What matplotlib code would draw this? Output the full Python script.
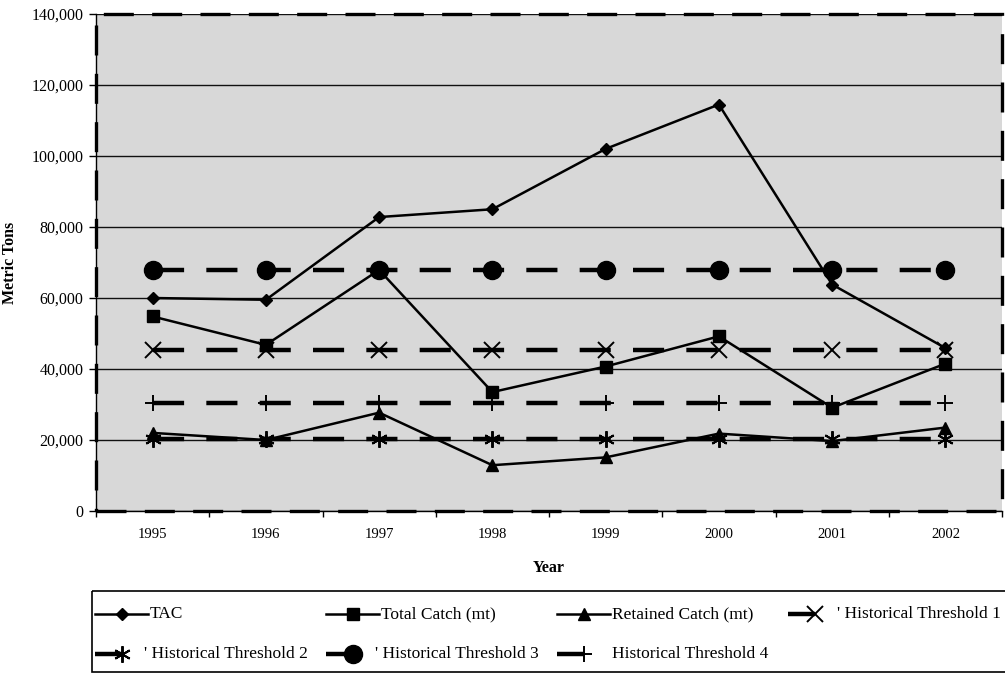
import matplotlib
matplotlib.use('Agg')
import matplotlib.pyplot as plt
from matplotlib.patches import Rectangle
from matplotlib.ticker import StrMethodFormatter, FixedLocator
import numpy as np

plt.rcParams['font.family'] = ['Liberation Serif', 'DejaVu Serif']

years = ['1995', '1996', '1997', '1998', '1999', '2000', '2001', '2002']
tac = [60000, 59500, 82800, 85000, 102000, 114500, 63800, 45900]
total_catch = [54800, 46800, 67900, 33500, 40700, 49200, 29100, 41500]
retained_catch = [22000, 20000, 27700, 12900, 15100, 21800, 19700, 23500]
hist1 = [45400, 45400, 45400, 45400, 45400, 45400, 45400, 45400]
hist2 = [20300, 20300, 20300, 20300, 20300, 20300, 20300, 20300]
hist3 = [68000, 68000, 68000, 68000, 68000, 68000, 68000, 68000]
hist4 = [30300, 30300, 30300, 30300, 30300, 30300, 30300, 30300]
yticks = [0, 20000, 40000, 60000, 80000, 100000, 120000, 140000]

asterisk = (6, 2, 0)
dash = (0, (7, 5))

fig = plt.figure(figsize=(10.05, 6.75), dpi=100)
ax = fig.add_axes([96/1005, 1-511/675, 906/1005, 497/675])
ax.set_facecolor('#d8d8d8')
x = np.arange(len(years))

ax.plot(x, tac, color='black', lw=1.8, marker='D', ms=6, zorder=3)
ax.plot(x, total_catch, color='black', lw=1.8, marker='s', ms=8, zorder=3)
ax.plot(x, retained_catch, color='black', lw=1.8, marker='^', ms=9, zorder=3)
ax.plot(x, hist1, color='black', lw=3.2, ls=dash, marker='x', ms=12, mew=1.4, zorder=3)
ax.plot(x, hist2, color='black', lw=3.2, ls=dash, marker=asterisk, ms=12, mew=1.4, zorder=3)
ax.plot(x, hist3, color='black', lw=3.2, ls=dash, marker='o', ms=13, zorder=3)
ax.plot(x, hist4, color='black', lw=3.2, ls=dash, marker='+', ms=12, mew=1.4, zorder=3)

ax.set_xlim(-0.5, len(years) - 0.5)
ax.set_ylim(0, 140000)
ax.set_yticks(yticks)
ax.yaxis.set_major_formatter(StrMethodFormatter('{x:,.0f}'))
ax.set_xticks(x)
ax.set_xticklabels(years)
ax.xaxis.set_minor_locator(FixedLocator(np.arange(-0.5, len(years), 1.0)))
ax.tick_params(axis='x', which='major', length=0, pad=12, labelsize=10.5)
ax.tick_params(axis='x', which='minor', length=4, direction='out', width=1)
ax.tick_params(axis='y', length=5, width=1, pad=4, labelsize=11.5)
ax.yaxis.grid(True, color='#111111', lw=1)
ax.set_axisbelow(True)

for side in ['top', 'right']:
    ax.spines[side].set_visible(False)
for side in ['left', 'bottom']:
    ax.spines[side].set_linewidth(1)
# dashed frame around the plot area
ax.add_patch(Rectangle((0, 0), 1, 1, transform=ax.transAxes, fill=False,
                       ec='black', lw=2.4, ls=(0, (9, 5.5)), clip_on=False, zorder=4))

ax.set_ylabel('Metric Tons', fontsize=11.5, fontweight='bold', labelpad=10)
ax.set_xlabel('Year', fontsize=11.5, fontweight='bold', labelpad=14)

# legend box drawn by hand, columns evenly spaced
lax = fig.add_axes([0, 0, 1, 1])
lax.set_xlim(0, 1005)
lax.set_ylim(675, 0)
lax.set_axis_off()
lax.patch.set_alpha(0)
lax.add_patch(Rectangle((92, 591), 930, 81, fill=False, ec='black', lw=1.2))

entries = [
    ('TAC', 'D', 6, 1.0, False),
    ('Total Catch (mt)', 's', 8, 1.0, False),
    ('Retained Catch (mt)', '^', 9, 1.0, False),
    ("' Historical Threshold 1", 'x', 12, 1.4, True),
    ("' Historical Threshold 2", asterisk, 12, 1.4, True),
    ("' Historical Threshold 3", 'o', 13, 1.0, True),
    ('Historical Threshold 4', '+', 12, 1.4, True),
]
cols = [95, 326, 557, 788]
rows = [614, 654]
for i, (label, mk, ms, mew, thick) in enumerate(entries):
    cx = cols[i % 4]
    cy = rows[i // 4]
    if thick:
        lax.plot([cx, cx + 27], [cy, cy], color='black', lw=3.2, solid_capstyle='butt')
    else:
        lax.plot([cx, cx + 53], [cy, cy], color='black', lw=1.8)
    lax.plot([cx + 27], [cy], color='black', marker=mk, ms=ms, mew=mew)
    tx = cx + 49 if label.startswith("'") else cx + 55
    lax.text(tx, cy, label, fontsize=12.5, va='center', ha='left')

fig.savefig('out.png', dpi=100)
